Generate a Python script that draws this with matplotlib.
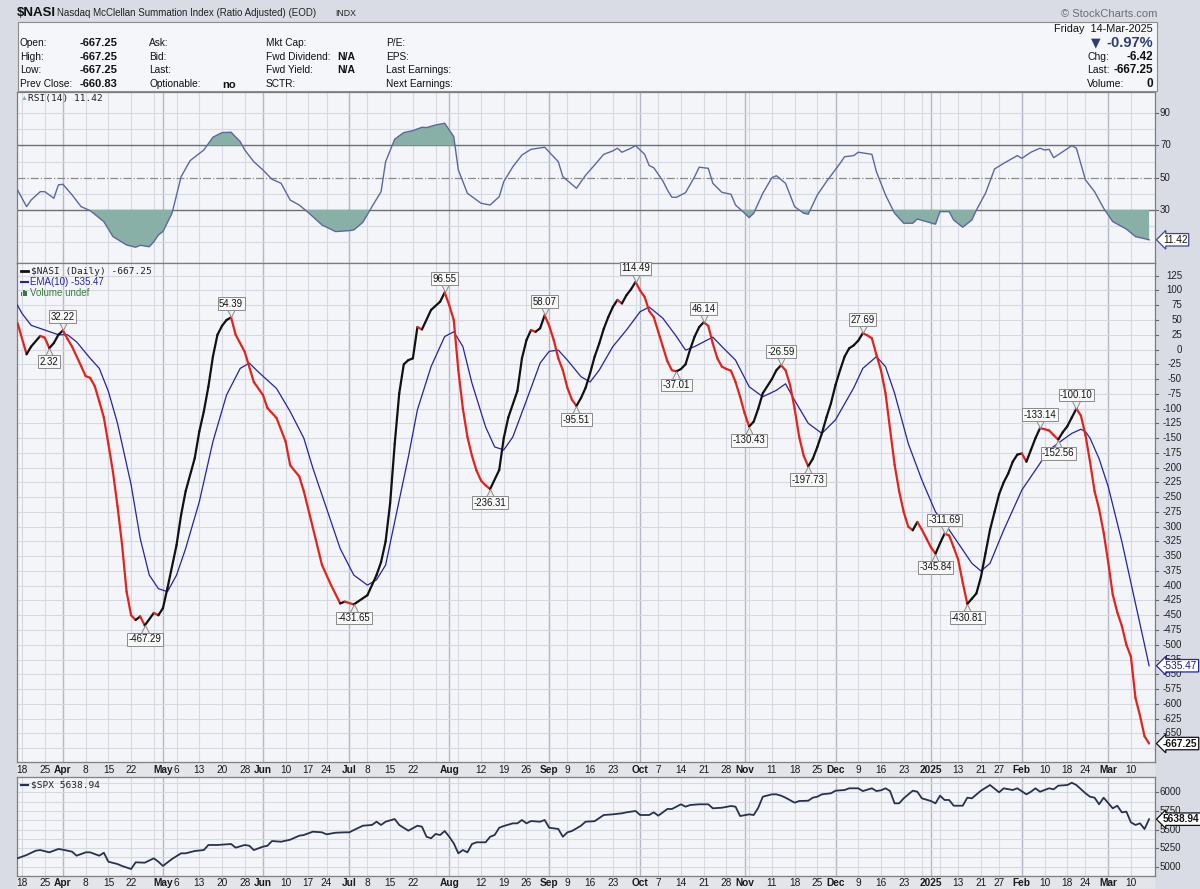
import numpy as np
import pandas as pd
import matplotlib
matplotlib.use("Agg")
import matplotlib.pyplot as plt
import matplotlib.transforms as mtransforms
from matplotlib.patches import Rectangle
from matplotlib.lines import Line2D
from matplotlib.collections import LineCollection

plt.rcParams['font.family'] = ['Liberation Sans', 'DejaVu Sans']

# trading calendar (x axis = trading day number, 0 = 2024-03-15)
holidays = ['2024-03-29', '2024-05-27', '2024-06-19', '2024-07-04', '2024-09-02',
            '2024-11-28', '2024-12-25', '2025-01-01', '2025-01-09', '2025-01-20',
            '2025-02-17']
dates = pd.bdate_range('2024-03-15', '2025-03-14')
dates = dates[~dates.isin(pd.to_datetime(holidays))]

tick_dates = ['2024-03-18', '2024-03-25', '2024-04-01', '2024-04-08', '2024-04-15', '2024-04-22',
              '2024-05-01', '2024-05-06', '2024-05-13', '2024-05-20', '2024-05-28', '2024-06-03',
              '2024-06-10', '2024-06-17', '2024-06-24', '2024-07-01', '2024-07-08', '2024-07-15',
              '2024-07-22', '2024-08-01', '2024-08-12', '2024-08-19', '2024-08-26', '2024-09-03',
              '2024-09-09', '2024-09-16', '2024-09-23', '2024-10-01', '2024-10-07', '2024-10-14',
              '2024-10-21', '2024-10-28', '2024-11-01', '2024-11-11', '2024-11-18', '2024-11-25',
              '2024-12-02', '2024-12-09', '2024-12-16', '2024-12-23', '2025-01-02', '2025-01-13',
              '2025-01-21', '2025-01-27', '2025-02-03', '2025-02-10', '2025-02-18', '2025-02-24',
              '2025-03-03', '2025-03-10']
tick_text = ['18', '25', 'Apr', '8', '15', '22', 'May', '6', '13', '20', '28', 'Jun',
             '10', '17', '24', 'Jul', '8', '15', '22', 'Aug', '12', '19', '26', 'Sep',
             '9', '16', '23', 'Oct', '7', '14', '21', '28', 'Nov', '11', '18', '25',
             'Dec', '9', '16', '23', '2025', '13', '21', '27', 'Feb', '10', '18', '24',
             'Mar', '10']

# $NASI daily close
nasi_day = [0, 2, 3, 5, 6, 7, 8, 9, 10,
            11, 12, 14, 15, 16, 17, 18, 19, 20, 21, 22, 23, 24, 25, 26, 27, 28,
            30, 31, 32, 33, 35, 36, 37, 39, 40, 41, 42, 43, 44, 45, 46, 47,
            48, 50, 52, 54, 55, 57, 59, 60, 62, 63, 65, 67, 69, 71, 72, 74,
            77, 79, 80, 81, 82, 83, 84, 85, 86, 87, 88, 89, 91, 93, 94,
            95, 96, 97, 98, 99, 100, 101, 102, 103, 104,
            106, 107, 108, 110, 111, 112, 113, 114, 115, 116,
            117, 118, 119, 120, 121, 122, 123,
            124, 125, 126, 127, 128, 129, 130, 131, 132, 133, 134, 135, 136,
            137, 138, 139, 140, 141, 142, 143, 144, 145,
            146, 147, 148, 149, 150, 151,
            152, 153, 154, 155, 156, 157, 158, 159, 160, 161,
            162, 163, 164, 166, 167, 168,
            169, 170, 171, 172, 173, 174,
            175, 176, 177, 178, 179, 180, 181, 182, 183, 184, 185, 186,
            187, 188, 189, 190, 191, 192, 193, 194, 195, 196, 197, 198, 199, 200, 201, 202,
            203, 204,
            205, 206, 207, 208, 209,
            210, 211, 212, 213, 214, 215, 216, 217, 218, 219, 220, 221, 222, 223, 224, 225,
            226, 227, 228, 229,
            230, 231, 232, 233,
            234, 235, 236, 237, 238, 239, 240, 241, 242, 243, 244, 245, 246, 247, 248, 249]
nasi_val = [45, -8, 5, 23, 20, 2.32, 11, 25, 32.22,
            18, 5, -28, -45, -48, -62, -88, -115, -160, -207, -265, -330, -410, -450, -458, -452, -467.29,
            -446, -450, -438, -404, -331, -280, -240, -184, -139, -105, -63, -12, 25, 40, 50, 54.39,
            25, -4, -55, -77, -99, -116, -156, -196, -215, -240, -302, -365, -399, -430, -427, -431.65,
            -416, -382, -360, -325, -260, -160, -74, -25, -18, -15, 38, 34, 67, 81, 96.55,
            75, 50, -35, -100, -148, -180, -205, -222, -230, -236.31,
            -204, -150, -115, -70, -15, 16, 33, 30, 36, 58.07,
            40, 16, -15, -35, -65, -85, -95.51,
            -82, -65, -40, -12, 10, 35, 55, 72, 84, 78, 92, 102, 114.49,
            100, 89, 65, 55, 30, 5, -20, -35, -37.01,
            -33, -25, 0, 22, 38, 46.14,
            40, 10, -15, -29, -33, -36, -55, -80, -108, -130.43,
            -122, -100, -74, -50, -35, -26.59,
            -35, -60, -100, -148, -180, -197.73,
            -185, -165, -142, -115, -91, -60, -35, -12, 2, 7, 15, 27.69,
            24, 19, -9, -35, -74, -135, -195, -240, -275, -300, -306, -292, -305, -320, -335, -345.84,
            -328, -311.69,
            -315, -335, -356, -395, -430.81,
            -422, -413, -385, -345, -305, -275, -245, -225, -210, -190, -178, -176, -190, -170, -150, -133.14,
            -135, -137, -145, -152.56,
            -140, -130, -115, -100.10,
            -112, -145, -190, -240, -270, -310, -360, -415, -445, -468, -500, -520, -590, -620, -655, -667.25]

# EMA(10) of $NASI
ema_day = [0, 1, 3, 6, 9, 11, 13, 16, 18, 20, 22, 25, 27, 29, 31, 33, 35, 37, 40, 43, 46, 49,
           51, 53, 57, 60, 63, 65, 68, 71, 74, 77, 79, 81, 84, 86, 88, 91, 94, 96, 98, 100,
           103, 105, 107, 109, 112, 115, 117, 119, 121, 124, 126, 128, 131, 134, 137, 139,
           142, 145, 147, 149, 153, 155, 158, 161, 164, 167, 169, 171, 174, 177, 180, 184,
           186, 189, 191, 193, 196, 199, 202, 204, 207, 210, 212, 214, 217, 221, 224, 227,
           230, 232, 234, 235, 236, 238, 240, 243, 244, 247, 248, 249]
ema_val = [75, 61, 41, 33, 25, 25, 13, -15, -32, -71, -125, -229, -320, -382, -405, -410, -382,
           -337, -258, -156, -77, -32, -23, -38, -66, -105, -150, -201, -269, -337, -382, -399,
           -390, -365, -255, -182, -102, -29, 22, 30, 5, -57, -131, -165, -170, -148, -86, -23,
           -3, -1, -18, -46, -55, -35, 5, 33, 64, 72, 53, 22, -1, 5, 21, 5, -18, -63, -80, -69,
           -58, -86, -125, -142, -119, -65, -32, -12, -29, -74, -159, -221, -275, -294, -328,
           -362, -375, -362, -306, -238, -204, -170, -153, -142, -135, -139, -150, -185, -232,
           -325, -360, -465, -500, -535.47]

# RSI(14) of $NASI
rsi_day = [0, 2, 3, 5, 6, 8, 9, 10, 12, 14, 16, 19, 21, 24, 26, 27, 29, 30, 31, 32, 34, 36,
           38, 41, 43, 45, 47, 49, 50, 52, 54, 56, 58, 60, 62, 64, 67, 70, 73, 74, 76, 78, 80,
           81, 83, 85, 87, 89, 90, 92, 94, 96, 97, 99, 102, 104, 106, 107, 109, 111, 113, 116,
           119, 120, 123, 125, 127, 129, 131, 132, 133, 135, 136, 138, 139, 140, 142, 143, 144,
           145, 147, 149, 150, 152, 153, 155, 157, 158, 160, 161, 162, 164, 166, 167, 169, 171,
           173, 174, 176, 178, 181, 182, 184, 185, 188, 189, 191, 193, 195, 197, 198, 200, 202,
           203, 205, 206, 208, 210, 211, 213, 215, 217, 220, 221, 223, 225, 226, 227, 228, 230,
           232, 233, 235, 237, 239, 241, 244, 246, 249]
rsi_val = [42.4, 32, 36.1, 41.3, 41.3, 37.2, 45.5, 45.9, 39.3, 32, 29.5, 22.7, 13.4, 8.2, 6.8,
           8, 7.1, 10.2, 14.4, 16.5, 27.9, 50.6, 60.6, 67.2, 75.1, 78, 78.2, 72.4, 67.2, 59.9,
           54.8, 49, 46.5, 36.1, 33, 28.3, 20.6, 16.5, 17.1, 17.5, 22.3, 32, 41.3, 59.9, 73.9,
           78, 79.2, 81.3, 81.1, 82.7, 83.8, 75.5, 54.8, 40.3, 34.1, 33, 38.2, 47.5, 56.8, 64.1,
           67.6, 68.9, 59.9, 50.6, 43.4, 51.5, 57.9, 64.5, 66.6, 68.3, 65.8, 68.3, 69.9, 64.5,
           57.5, 56.2, 48, 42.4, 37.8, 37.8, 40.7, 50.6, 56.5, 55.8, 46.5, 40.9, 39.7, 33, 27.9,
           25.2, 27.9, 40.3, 50, 51.2, 46.5, 32, 27.9, 27.3, 39.3, 47.5, 58.9, 63, 63.7, 65.8,
           64.5, 53.7, 39.3, 27.9, 21.7, 21.7, 24.3, 22.7, 21.1, 28.9, 28.9, 23.7, 19.2, 23.7,
           29.9, 40.3, 55.4, 58.9, 63.7, 62, 65.8, 68.3, 67.2, 67.6, 62.4, 66.1, 69.9, 68.3,
           48.6, 41.3, 31, 22.7, 18.1, 13.4, 11.42]

# $SPX close
spx_day = [0, 2, 4, 5, 7, 9, 10, 12, 13, 15, 16, 18, 19, 20, 22, 23, 25, 26, 28, 30, 31, 32,
           34, 36, 37, 39, 41, 42, 44, 47, 48, 50, 51, 52, 54, 55, 56, 58, 60, 62, 63, 65, 67,
           68, 70, 72, 73, 74, 76, 78, 79, 80, 81, 83, 84, 86, 88, 89, 90, 91, 92, 93, 94, 95,
           96, 97, 98, 99, 100, 101, 103, 104, 105, 106, 107, 109, 110, 111, 112, 113, 115,
           116, 117, 119, 120, 121, 122, 124, 125, 127, 129, 131, 133, 134, 136, 137, 139, 140,
           141, 143, 144, 146, 147, 148, 150, 152, 153, 155, 157, 158, 159, 161, 162, 163, 164,
           166, 167, 168, 169, 171, 172, 174, 175, 176, 177, 179, 180, 182, 183, 185, 186, 188,
           189, 190, 191, 192, 193, 194, 195, 197, 198, 199, 201, 202, 203, 204, 205, 206, 208,
           209, 210, 212, 214, 216, 217, 219, 220, 222, 223, 224, 225, 227, 228, 229, 231, 232,
           233, 235, 236, 237, 238, 239, 241, 242, 243, 244, 245, 246, 247, 248, 249]
spx_val = [5113, 5157, 5215, 5224, 5193, 5238, 5229, 5202, 5148, 5193, 5193, 5148, 5188, 5067,
           5036, 5010, 4969, 5059, 5054, 5113, 5067, 5010, 5104, 5180, 5180, 5211, 5224, 5292,
           5292, 5305, 5256, 5292, 5282, 5224, 5269, 5282, 5345, 5336, 5363, 5417, 5426, 5471,
           5462, 5435, 5457, 5462, 5462, 5493, 5551, 5561, 5605, 5561, 5605, 5641, 5561, 5484,
           5551, 5538, 5403, 5382, 5440, 5426, 5480, 5403, 5314, 5180, 5224, 5193, 5305, 5328,
           5328, 5403, 5426, 5524, 5547, 5583, 5583, 5628, 5583, 5614, 5605, 5628, 5524, 5507,
           5403, 5462, 5480, 5551, 5605, 5612, 5695, 5704, 5718, 5731, 5749, 5695, 5695, 5731,
           5686, 5776, 5776, 5839, 5807, 5829, 5839, 5839, 5785, 5793, 5816, 5807, 5681, 5704,
           5695, 5793, 5941, 5973, 5973, 5955, 5928, 5861, 5883, 5887, 5928, 5941, 5973, 5987,
           6022, 6031, 6054, 6054, 6017, 6054, 6017, 6027, 6054, 6017, 5852, 5852, 5919, 6022,
           6008, 5919, 5883, 5852, 5955, 5897, 5897, 5820, 5820, 5928, 5919, 6022, 6098, 6000,
           6054, 6031, 6054, 5973, 6008, 6054, 6008, 6054, 6040, 6089, 6098, 6129, 6098, 5987,
           5941, 5928, 5839, 5928, 5785, 5820, 5731, 5740, 5597, 5561, 5583, 5507, 5638.94]

peak_vals = [32.22, 54.39, 96.55, 58.07, 114.49, 46.14, -26.59, 27.69, -311.69, -133.14, -100.10]
trough_vals = [2.32, -467.29, -431.65, -236.31, -95.51, -37.01, -130.43, -197.73, -345.84,
               -430.81, -152.56]

main_ticks = list(range(125, -651, -25))
rsi_ticks = [90, 70, 50, 30]
spx_ticks = [6000, 5750, 5500, 5250, 5000]

# ---------------------------------------------------------------------------
W, H = 1200, 889
fig = plt.figure(figsize=(12, 8.89), dpi=100)
fig.patch.set_facecolor('#d9dce5')


def fx(x):
    return x / W


def fy(y):
    return 1 - y / H


week_idx = [i for i in range(1, len(dates))
            if dates[i].isocalendar()[1] != dates[i - 1].isocalendar()[1]]
month_idx = [i for i in range(1, len(dates)) if dates[i].month != dates[i - 1].month]


def panel(top, bottom, ylim):
    a = fig.add_axes([fx(17), fy(bottom), fx(1155) - fx(17), fy(top) - fy(bottom)])
    a.set_facecolor('#f4f5f9')
    a.set_xlim(-0.11, 250.3)
    a.set_ylim(*ylim)
    a.set_xticks([])
    a.set_yticks([])
    for s in a.spines.values():
        s.set_color('#7d7d7d')
        s.set_linewidth(0.9)
    for i in week_idx:
        a.axvline(i, color='#d6d9e1', lw=0.8, zorder=0)
    for i in month_idx:
        a.axvline(i, color='#b4b8c4', lw=1.0, zorder=0)
    return a


ax_rsi = panel(92, 263, (-3.0, 103.2))
ax = panel(263, 762, (-698.5, 146.5))
ax_spx = panel(777, 876, (4875, 6206))

# horizontal grid
for v in range(-675, 150, 25):
    ax.axhline(v, color='#d6d9e1', lw=0.8, zorder=0)
for v in [10, 20, 40, 60, 80, 90]:
    ax_rsi.axhline(v, color='#d6d9e1', lw=0.8, zorder=0)
for v in range(4875, 6250, 125):
    ax_spx.axhline(v, color='#d6d9e1', lw=0.8, zorder=0)
ax_rsi.axhline(70, color='#6e6e6e', lw=1.0, zorder=1)
ax_rsi.axhline(30, color='#6e6e6e', lw=1.0, zorder=1)
ax_rsi.axhline(50, color='#8a8a8a', lw=0.9, ls='-.', zorder=1)

# ---- RSI
rd = np.array(rsi_day)
rv = np.array(rsi_val)
fill_c = '#88b0a6'
ax_rsi.fill_between(rd, rv, 70, where=rv >= 70, interpolate=True, color=fill_c, lw=0, zorder=2)
ax_rsi.fill_between(rd, rv, 30, where=rv <= 30, interpolate=True, color=fill_c, lw=0, zorder=2)
ax_rsi.plot(rd, rv, color='#5b68a0', lw=1.0, zorder=3)

# ---- NASI + EMA
ax.plot(ema_day, ema_val, color='#2424a0', lw=0.9, zorder=3)
pts = np.column_stack([nasi_day, nasi_val])
segs = np.stack([pts[:-1], pts[1:]], axis=1)
cols = ['#111111' if b >= a else '#e3231b' for a, b in zip(nasi_val[:-1], nasi_val[1:])]
ax.add_collection(LineCollection(segs, colors=cols, linewidths=1.6, capstyle='round',
                                 joinstyle='round', zorder=4))

for v in peak_vals + trough_vals:
    i = nasi_val.index(v)
    d = nasi_day[i]
    up = v in peak_vals
    sgn = 1 if up else -1
    ax.annotate(f'{v:.2f}', (d, v), xytext=(0, 9.8 * sgn), textcoords='offset points',
                ha='center', va='center', fontsize=6.9, color='#111111',
                bbox=dict(boxstyle='square,pad=0.15', fc='#f8f8f8', ec='#8a8a8a', lw=0.7),
                zorder=7)
    off = mtransforms.ScaledTranslation(0, sgn * 2.9 / 72, fig.dpi_scale_trans)
    ax.plot(d, v, marker='v' if up else '^', ms=5.5, mfc='#eeeeee', mec='#8a8a8a', mew=0.7,
            transform=ax.transData + off, zorder=6, clip_on=False)

# ---- SPX
ax_spx.plot(spx_day, spx_val, color='#28324f', lw=1.3, zorder=3)

# ---- right axis labels and value tags
def ylabels(a, ticks, x_px, ha, fmt='{}'):
    tr = mtransforms.blended_transform_factory(fig.transFigure, a.transData)
    for v in ticks:
        a.text(fx(x_px), v, fmt.format(v), transform=tr, ha=ha, va='center', fontsize=7,
               color='#222222', clip_on=False)
        a.add_line(Line2D([fx(1155), fx(1158)], [v, v], transform=tr, color='#666666',
                          lw=0.8, clip_on=False))


def tag(a, v, text, ec, bold=False, color='#111111'):
    tr = mtransforms.blended_transform_factory(fig.transFigure, a.transData)
    a.text(fx(1163), v, text, transform=tr, ha='left', va='center', fontsize=7.3,
           fontweight='bold' if bold else 'normal', color=color, clip_on=False, zorder=10,
           bbox=dict(boxstyle='larrow,pad=0.12', fc='white', ec=ec, lw=0.9))


ylabels(ax_rsi, rsi_ticks, 1160, 'left')
ylabels(ax, main_ticks, 1182, 'right')
ylabels(ax_spx, spx_ticks, 1160, 'left')
tag(ax_rsi, rsi_val[-1], f'{rsi_val[-1]:.2f}', '#3a4a8a')
tag(ax, ema_val[-1], f'{ema_val[-1]:.2f}', '#2424a0', color='#1a1a6a')
tag(ax, nasi_val[-1], f'{nasi_val[-1]:.2f}', '#111111', bold=True)
tag(ax_spx, spx_val[-1], f'{spx_val[-1]:.2f}', '#111111', bold=True)

# ---- date label strips
for top, bot in [(762, 777), (876, 889)]:
    fig.add_artist(Rectangle((fx(17), fy(bot)), fx(1155) - fx(17), fy(top) - fy(bot),
                             transform=fig.transFigure, fc='#e3e5eb', ec='none', zorder=0))
    for yy in (top, bot):
        fig.add_artist(Line2D([fx(17), fx(1155)], [fy(yy), fy(yy)], transform=fig.transFigure,
                              color='#8a8a8a', lw=0.8, ls=(0, (1, 1.5))))

for a, ypx in [(ax, 770), (ax_spx, 882.5)]:
    tr = mtransforms.blended_transform_factory(a.transData, fig.transFigure)
    for d, t in zip(tick_dates, tick_text):
        i = dates.get_loc(pd.Timestamp(d))
        bold = not t.isdigit() or t == '2025'
        a.text(i, fy(ypx), t, transform=tr, ha='center', va='center', fontsize=7.3,
               fontweight='bold' if bold else 'normal', color='#1a1a1a', clip_on=False)

# ---- panel legends
mono = ['DejaVu Sans Mono']


def legend_line(a, y_px, color, lw):
    a.add_line(Line2D([fx(21), fx(28)], [fy(y_px), fy(y_px)], transform=fig.transFigure,
                      color=color, lw=lw, clip_on=False, zorder=8))


fig.text(fx(21), fy(98), '\u25b2', fontsize=5, color=fill_c, va='center')
fig.text(fx(28), fy(98), f'RSI(14) {rsi_val[-1]:.2f}', family=mono, fontsize=6.8,
         color='#222222', va='center')
legend_line(ax, 271, '#111111', 2.0)
fig.text(fx(31), fy(271), f'$NASI (Daily) {nasi_val[-1]:.2f}', family=mono, fontsize=6.8,
         color='#222222', va='center')
legend_line(ax, 282, '#2424a0', 1.5)
fig.text(fx(30), fy(282), f'EMA(10) {ema_val[-1]:.2f}', fontsize=7, color='#2424a0',
         va='center')
for k, hgt in enumerate([4, 6, 5]):
    fig.add_artist(Rectangle((fx(21 + 2.2 * k), fy(296)), fx(1.4), hgt / H,
                             transform=fig.transFigure, fc='#3d7a3d', ec='none'))
fig.text(fx(30), fy(292.5), 'Volume undef', fontsize=7, color='#3d7a3d', va='center')
legend_line(ax_spx, 785, '#28324f', 1.6)
fig.text(fx(31), fy(785), f'$SPX {spx_val[-1]:.2f}', family=mono, fontsize=6.8,
         color='#222222', va='center')

# ---- header
fig.text(fx(17), fy(13.5), '$NASI', fontsize=9.5, fontweight='bold', color='#111111',
         va='center')
fig.text(fx(57), fy(13.5), 'Nasdaq McClellan Summation Index (Ratio Adjusted) (EOD)',
         fontsize=7, color='#222222', va='center')
fig.text(fx(335), fy(14), 'INDX', fontsize=6.3, color='#222222', va='center')
fig.text(fx(1157), fy(14), '\u00a9 StockCharts.com', fontsize=8, color='#6e6e6e',
         ha='right', va='center')

fig.add_artist(Rectangle((fx(18), fy(91)), fx(1157) - fx(18), fy(22) - fy(91),
                         transform=fig.transFigure, fc='#f5f6fa', ec='#8c8c8c', lw=0.8))

rows = [43, 57, 70, 84]
col1 = ['Open:', 'High:', 'Low:', 'Prev Close:']
col1_v = ['-667.25', '-667.25', '-667.25', '-660.83']
col2 = ['Ask:', 'Bid:', 'Last:', 'Optionable:']
col3 = ['Mkt Cap:', 'Fwd Dividend:', 'Fwd Yield:', 'SCTR:']
col4 = ['P/E:', 'EPS:', 'Last Earnings:', 'Next Earnings:']
for y, a1, v1, a2, a3, a4 in zip(rows, col1, col1_v, col2, col3, col4):
    fig.text(fx(20), fy(y), a1, fontsize=7.3, color='#111111', va='center')
    fig.text(fx(117), fy(y), v1, fontsize=8, fontweight='bold', color='#111111',
             ha='right', va='center')
    fig.text(fx(149), fy(y), a2, fontsize=7.3, color='#111111', va='center')
    fig.text(fx(266), fy(y), a3, fontsize=7.3, color='#111111', va='center')
    fig.text(fx(386), fy(y), a4, fontsize=7.3, color='#111111', va='center')
fig.text(fx(222), fy(85), 'no', fontsize=8, fontweight='bold', color='#111111', va='center')
fig.text(fx(337), fy(57), 'N/A', fontsize=7.5, fontweight='bold', color='#111111', va='center')
fig.text(fx(337), fy(70), 'N/A', fontsize=7.5, fontweight='bold', color='#111111', va='center')

fig.text(fx(1153), fy(29), 'Friday  14-Mar-2025', fontsize=7.8, color='#111111',
         ha='right', va='center')
fig.text(fx(1096), fy(43), '\u25bc', fontsize=9, color='#2e3e6e', ha='center', va='center',
         family=['DejaVu Sans'])
fig.text(fx(1153), fy(43), '-0.97%', fontsize=10.5, fontweight='bold', color='#2e3e6e',
         ha='right', va='center')
for y, lab, val in [(57, 'Chg:', '-6.42'), (70, 'Last:', '-667.25'), (84, 'Volume:', '0')]:
    fig.text(fx(1087), fy(y), lab, fontsize=7.5, color='#111111', va='center')
    fig.text(fx(1153), fy(y), val, fontsize=8.5, fontweight='bold', color='#111111',
             ha='right', va='center')

fig.savefig('out.png', dpi=100, facecolor=fig.get_facecolor())
